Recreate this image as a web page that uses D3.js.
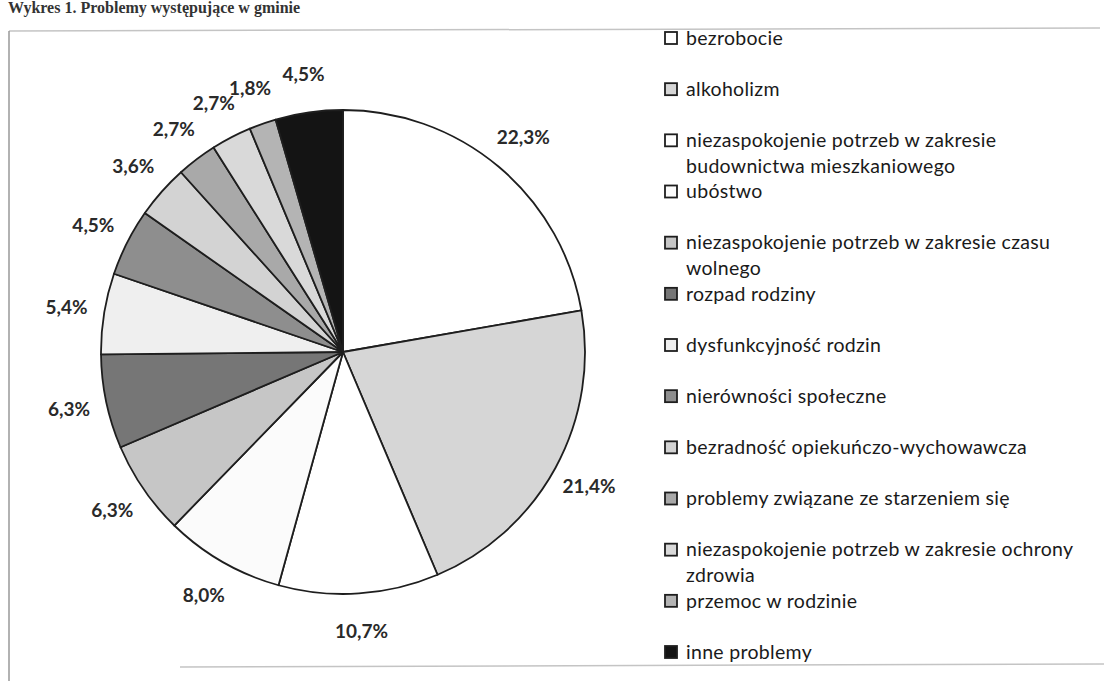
<!DOCTYPE html>
<html>
<head>
<meta charset="utf-8">
<script src="https://cdn.jsdelivr.net/npm/d3@7"></script>
<style>
  body { margin: 0; background: #fff; }
  svg { display: block; }
</style>
</head>
<body>
<svg id="chart" width="1104" height="681"></svg>
<script>
// data, clockwise from 12 o'clock
const categories = [
  "bezrobocie",
  "alkoholizm",
  "niezaspokojenie potrzeb w zakresie|budownictwa mieszkaniowego",
  "ubóstwo",
  "niezaspokojenie potrzeb w zakresie czasu|wolnego",
  "rozpad rodziny",
  "dysfunkcyjność rodzin",
  "nierówności społeczne",
  "bezradność opiekuńczo-wychowawcza",
  "problemy związane ze starzeniem się",
  "niezaspokojenie potrzeb w zakresie ochrony|zdrowia",
  "przemoc w rodzinie",
  "inne problemy"
];
const values = [22.3, 21.4, 10.7, 8.0, 6.3, 6.3, 5.4, 4.5, 3.6, 2.7, 2.7, 1.8, 4.5];
const labels = ["22,3%", "21,4%", "10,7%", "8,0%", "6,3%", "6,3%", "5,4%", "4,5%", "3,6%", "2,7%", "2,7%", "1,8%", "4,5%"];
const fills = ["#ffffff", "#d6d6d6", "#ffffff", "#fbfbfb", "#c6c6c6", "#767676",
               "#efefef", "#8e8e8e", "#d3d3d3", "#a9a9a9", "#d9d9d9", "#b4b4b4", "#141414"];

const svg = d3.select("#chart");
const cx = 343, cy = 352, radius = 242;

// scanned frame + caption
svg.append("text")
  .attr("x", 8).attr("y", 13)
  .style("font-family", "'Liberation Serif', serif")
  .style("font-weight", "bold")
  .style("font-size", "16px")
  .style("fill", "#333")
  .text("Wykres 1. Problemy występujące w gminie");

const frame = svg.append("g").attr("stroke", "#c4c4c4").attr("stroke-width", 1.5);
frame.append("line").attr("x1", 9).attr("y1", 31).attr("x2", 1100).attr("y2", 28);
frame.append("line").attr("x1", 9).attr("y1", 31).attr("x2", 9).attr("y2", 681).attr("stroke", "#999");
frame.append("line").attr("x1", 180).attr("y1", 667).attr("x2", 1104).attr("y2", 664);

const pie = d3.pie().sort(null).value(d => d)(values);
const arc = d3.arc().innerRadius(0).outerRadius(radius);
const labelArc = d3.arc().innerRadius(radius + 38).outerRadius(radius + 38);

const g = svg.append("g").attr("transform", `translate(${cx},${cy})`);

g.selectAll("path")
  .data(pie)
  .join("path")
  .attr("d", arc)
  .attr("fill", (d, i) => fills[i])
  .attr("stroke", "#1e1e1e")
  .attr("stroke-width", 1.8)
  .attr("stroke-linejoin", "round");

g.selectAll("text.lbl")
  .data(pie)
  .join("text")
  .attr("class", "lbl")
  .attr("transform", d => `translate(${labelArc.centroid(d)})`)
  .attr("text-anchor", "middle")
  .attr("dy", "0.35em")
  .style("font-family", "Lato, sans-serif")
  .style("font-weight", "bold")
  .style("font-size", "19px")
  .style("fill", "#2a2a2a")
  .text((d, i) => labels[i]);

// legend
const legY = d3.scaleLinear().domain([0, categories.length - 1]).range([38, 652]);
const leg = svg.append("g");
categories.forEach((c, i) => {
  const y = legY(i);
  const item = leg.append("g").attr("transform", `translate(665,${y})`);
  item.append("rect")
    .attr("x", 0).attr("y", -6)
    .attr("width", 12).attr("height", 12)
    .attr("fill", fills[i])
    .attr("stroke", "#1e1e1e")
    .attr("stroke-width", 1.8);
  c.split("|").forEach((ln, k) => {
    item.append("text")
      .attr("x", 21).attr("y", k * 26)
      .attr("dy", "0.35em")
      .style("font-family", "Lato, sans-serif")
      .style("font-size", "19.5px")
      .style("letter-spacing", "0.3px")
      .style("fill", "#1a1a1a")
      .text(ln);
  });
});
</script>
</body>
</html>
